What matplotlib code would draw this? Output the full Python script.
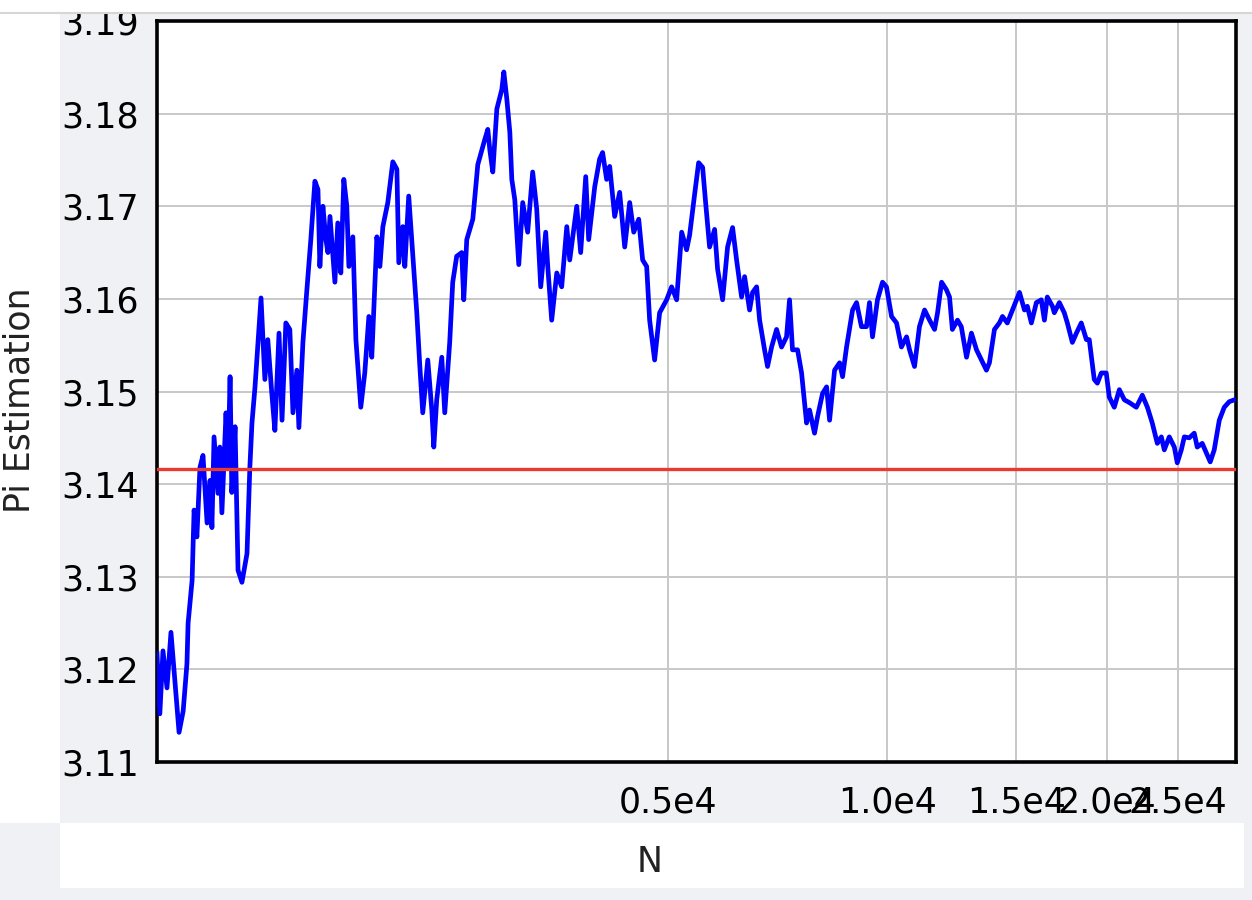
import matplotlib
matplotlib.use("Agg")
import matplotlib.pyplot as plt
from matplotlib.patches import Rectangle
from matplotlib.lines import Line2D
import numpy as np

# sample size N and running estimate of pi
n_values = [
    1000, 1009, 1019, 1032, 1045, 1058, 1072, 1086, 1099, 1103, 1117, 1124, 1134, 1145, 1156,
    1171, 1182, 1189, 1197, 1212, 1219, 1227, 1243, 1251, 1259, 1266, 1279, 1291, 1307, 1328,
    1340, 1349, 1362, 1388, 1405, 1418, 1436, 1450, 1469, 1483, 1501, 1520, 1535, 1554, 1564,
    1584, 1604, 1624, 1645, 1661, 1671, 1687, 1703, 1714, 1725, 1752, 1768, 1785, 1802, 1819,
    1831, 1854, 1872, 1901, 1925, 1950, 1968, 2000, 2019, 2038, 2070, 2103, 2130, 2143, 2170,
    2184, 2211, 2232, 2268, 2290, 2311, 2348, 2378, 2393, 2415, 2454, 2477, 2516, 2540, 2572,
    2613, 2630, 2655, 2706, 2749, 2810, 2837, 2855, 2882, 2919, 2965, 2984, 3012, 3041, 3060,
    3089, 3128, 3167, 3217, 3268, 3310, 3352, 3405, 3427, 3470, 3526, 3581, 3639, 3673, 3755,
    3802, 3863, 3899, 3974, 4036, 4074, 4126, 4166, 4232, 4299, 4368, 4437, 4494, 4565, 4622,
    4681, 4725, 4800, 4876, 4985, 5064, 5145, 5227, 5309, 5360, 5445, 5514, 5584, 5637, 5708,
    5799, 5854, 5947, 6041, 6137, 6215, 6314, 6374, 6475, 6537, 6620, 6683, 6788, 6852, 6940,
    7050, 7161, 7275, 7344, 7413, 7532, 7628, 7700, 7749, 7822, 7946, 8022, 8150, 8254, 8332,
    8464, 8599, 8680, 8790, 8958, 9071, 9213, 9360, 9449, 9539, 9690, 9845, 9968, 10130, 10290,
    10450, 10620, 10720, 10890, 11060, 11240, 11420, 11600, 11710, 11860, 12040, 12160, 12270,
    12470, 12620, 12830, 13030, 13240, 13450, 13660, 13790, 14010, 14230, 14370, 14590, 14830,
    15160, 15400, 15540, 15740, 15990, 16240, 16400, 16550, 16820, 16920, 17190, 17460, 17630,
    17910, 18140, 18420, 18720, 18890, 19190, 19380, 19620, 19930, 20120, 20440, 20770, 21100,
    21440, 21910, 22330, 22690, 23040, 23410, 23710, 23930, 24310, 24700, 24930, 25250, 25490,
    25890, 26300, 26550, 26970, 27310, 27660, 28010, 28460, 28910, 29370, 29840,
]
pi_est = [
    3.1217, 3.1152, 3.1220, 3.1180, 3.1240, 3.1188, 3.1132, 3.1155, 3.1206, 3.1250, 3.1296, 3.1372, 3.1343, 3.1418, 3.1431,
    3.1358, 3.1404, 3.1353, 3.1451, 3.1390, 3.1440, 3.1369, 3.1477, 3.1418, 3.1516, 3.1391, 3.1462, 3.1307, 3.1294, 3.1325,
    3.1418, 3.1466, 3.1505, 3.1601, 3.1513, 3.1556, 3.1498, 3.1458, 3.1563, 3.1469, 3.1574, 3.1567, 3.1477, 3.1523, 3.1461,
    3.1553, 3.1610, 3.1664, 3.1727, 3.1718, 3.1635, 3.1700, 3.1664, 3.1650, 3.1689, 3.1618, 3.1682, 3.1628, 3.1729, 3.1700,
    3.1635, 3.1667, 3.1556, 3.1483, 3.1520, 3.1581, 3.1537, 3.1667, 3.1635, 3.1678, 3.1704, 3.1748, 3.1740, 3.1639, 3.1678,
    3.1635, 3.1711, 3.1664, 3.1585, 3.1527, 3.1477, 3.1534, 3.1480, 3.1440, 3.1491, 3.1537, 3.1477, 3.1553, 3.1618, 3.1646,
    3.1650, 3.1599, 3.1664, 3.1686, 3.1745, 3.1772, 3.1783, 3.1761, 3.1737, 3.1805, 3.1826, 3.1845, 3.1816, 3.1780, 3.1729,
    3.1707, 3.1637, 3.1704, 3.1672, 3.1737, 3.1697, 3.1613, 3.1672, 3.1635, 3.1577, 3.1628, 3.1613, 3.1678, 3.1642, 3.1700,
    3.1650, 3.1732, 3.1664, 3.1721, 3.1751, 3.1758, 3.1729, 3.1743, 3.1689, 3.1715, 3.1656, 3.1704, 3.1672, 3.1686, 3.1642,
    3.1635, 3.1577, 3.1534, 3.1585, 3.1599, 3.1613, 3.1599, 3.1672, 3.1653, 3.1669, 3.1713, 3.1747, 3.1742, 3.1704, 3.1656,
    3.1675, 3.1632, 3.1599, 3.1656, 3.1677, 3.1642, 3.1602, 3.1624, 3.1588, 3.1607, 3.1613, 3.1577, 3.1545, 3.1527, 3.1548,
    3.1567, 3.1548, 3.1559, 3.1599, 3.1545, 3.1545, 3.1520, 3.1488, 3.1466, 3.1480, 3.1455, 3.1473, 3.1498, 3.1505, 3.1469,
    3.1523, 3.1531, 3.1516, 3.1548, 3.1588, 3.1596, 3.1570, 3.1570, 3.1596, 3.1559, 3.1599, 3.1618, 3.1613, 3.1581, 3.1574,
    3.1548, 3.1559, 3.1545, 3.1527, 3.1570, 3.1588, 3.1577, 3.1567, 3.1585, 3.1618, 3.1610, 3.1602, 3.1567,
    3.1577, 3.1570, 3.1537, 3.1563, 3.1545, 3.1534, 3.1523, 3.1531, 3.1567, 3.1574, 3.1581, 3.1574, 3.1588,
    3.1607, 3.1588, 3.1592, 3.1574, 3.1596, 3.1599, 3.1577, 3.1602, 3.1592, 3.1585, 3.1596, 3.1585, 3.1574,
    3.1553, 3.1563, 3.1574, 3.1556, 3.1556, 3.1513, 3.1509, 3.1520, 3.1520, 3.1494, 3.1483, 3.1502, 3.1491,
    3.1488, 3.1483, 3.1496, 3.1483, 3.1466, 3.1444, 3.1451, 3.1437, 3.1451, 3.1440, 3.1423, 3.1437, 3.1451,
    3.1450, 3.1455, 3.1440, 3.1444, 3.1434, 3.1424, 3.1437, 3.1469, 3.1483, 3.1489, 3.1491,
]

x_ticks = [5000, 10000, 15000, 20000, 25000]
x_tick_labels = ["0.5e4", "1.0e4", "1.5e4", "2.0e4", "2.5e4"]
y_ticks = [3.11, 3.12, 3.13, 3.14, 3.15, 3.16, 3.17, 3.18, 3.19]

W, H = 1252, 900
fig = plt.figure(figsize=(W / 100, H / 100), dpi=100, facecolor="white")

gray = "#f0f1f4"

def px_rect(x0, y0, x1, y1, color, z):
    # rectangle in pixel coords, origin at top-left
    r = Rectangle((x0 / W, 1 - y1 / H), (x1 - x0) / W, (y1 - y0) / H,
                  transform=fig.transFigure, facecolor=color, edgecolor="none", zorder=z)
    fig.add_artist(r)

px_rect(60, 13, W, 823, gray, -10)
px_rect(0, 823, W, H, gray, -10)
px_rect(60, 823, 1244, 888, "white", -9)

ax = fig.add_axes([157 / W, 1 - 762 / H, (1236 - 157) / W, (762 - 21) / H])
ax.set_facecolor("white")

ax.plot(n_values, pi_est, color="#0000ff", lw=3.4, zorder=3,
        solid_joinstyle="round")
ax.axhline(np.pi, color="#ea3a2e", lw=2.4, zorder=4)

ax.set_xscale("log")
ax.set_xlim(1000, 30000)
ax.set_ylim(3.11, 3.19)
ax.set_xticks(x_ticks)
ax.set_xticklabels(x_tick_labels)
ax.xaxis.set_minor_locator(matplotlib.ticker.NullLocator())
ax.set_yticks(y_ticks)
ax.set_yticklabels(["%.2f" % v for v in y_ticks])
ax.tick_params(axis="both", length=0, labelsize=25, colors="black")
ax.tick_params(axis="y", pad=13)
ax.tick_params(axis="x", pad=17)
ax.grid(True, color="#c8c8c8", lw=1.4, zorder=1)
ax.set_axisbelow(True)
for s in ax.spines.values():
    s.set_linewidth(2.6)
    s.set_color("black")

fig.text(20 / W, 1 - 400 / H, "Pi Estimation", rotation=90, fontsize=25,
         color="#222222", ha="center", va="center")
fig.text(650 / W, 1 - 862 / H, "N", fontsize=25, color="#222222", ha="center", va="center")

# white strip on top clips the upper tick label, plus thin divider line
px_rect(0, 0, W, 12, "white", 10)
fig.add_artist(Line2D([0, 1], [1 - 12.5 / H, 1 - 12.5 / H], transform=fig.transFigure,
                      color="#d6d6d6", lw=1.5, zorder=11))

fig.savefig("out.png", dpi=100, facecolor="white")
